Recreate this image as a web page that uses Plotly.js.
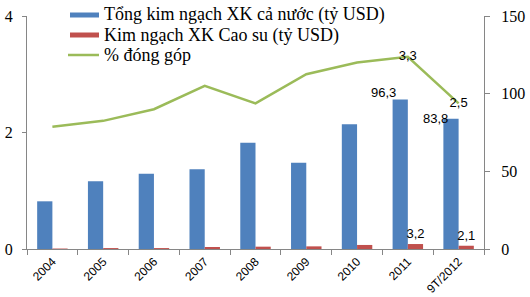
<!DOCTYPE html>
<html><head><meta charset="utf-8">
<script src="https://cdn.plot.ly/plotly-3.0.1.min.js"></script>
<style>html,body{margin:0;padding:0;background:#fff}#c{width:530px;height:297px}</style>
</head><body><div id="c"></div>
<script>
const categories = ["2004","2005","2006","2007","2008","2009","2010","2011","9T/2012"];
const totalExport = [30.7, 43.6, 48.5, 51.3, 68.4, 55.6, 80.3, 96.3, 83.8];
const rubberExport = [0.3, 0.6, 0.6, 1.3, 1.5, 1.7, 2.6, 3.2, 2.1];
const sharePct = [2.1, 2.2, 2.4, 2.8, 2.5, 3.0, 3.2, 3.3, 2.5];
const seriesNames = ["Tổng kim ngạch XK cả nước (tỷ USD)", "Kim ngạch XK Cao su (tỷ USD)", "% đóng góp"];
const labeledIdx = [7, 8];

const fmt = v => v.toFixed(1).replace('.', ',');
const lab = arr => arr.map((v,i) => labeledIdx.includes(i) ? fmt(v) : '');

const colors = ["#4F81BD", "#C0504D", "#9BBB59"];
const labelFont = {family: "Liberation Sans, Arial, sans-serif", size: 13, color: "#000"};

const traces = [
  {type:'bar', x:categories, y:totalExport, name:seriesNames[0], marker:{color:colors[0]}, yaxis:'y', hoverinfo:'none'},
  {type:'bar', x:categories, y:rubberExport, name:seriesNames[1], marker:{color:colors[1]},
   text:lab(rubberExport), textposition:'outside', constraintext:'none', textfont:labelFont, cliponaxis:false, yaxis:'y', hoverinfo:'none'},
  {type:'scatter', mode:'lines+text', x:categories, y:sharePct, name:seriesNames[2], line:{color:colors[2], width:2.5},
   text:lab(sharePct), textposition:'middle center', textfont:labelFont, cliponaxis:false, yaxis:'y2', hoverinfo:'none'}
];

const L = 27, R = 484, T = 16, B = 249;
const px = x => (x - L) / (R - L);
const py = y => (B - y) / (B - T);
const axisCol = "#868686";
const serif = {family: "Liberation Serif, Times New Roman, serif", size: 16, color: "#000"};

// label offsets for the blue-bar value labels (px)
const blueShift = {7: [-24, 7], 8: [-23, 0]};
const blueLabels = labeledIdx.map(i => ({
  text: fmt(totalExport[i]), x: i, y: totalExport[i], xref:'x', yref:'y',
  xshift: blueShift[i][0], yshift: blueShift[i][1], yanchor:'middle', xanchor:'center',
  showarrow:false, font:labelFont
}));

const legendText = seriesNames.map((n,i) => ({
  text:n, xref:'paper', yref:'paper', x:px(102), y:py(15 + 20*i), xanchor:'left', yanchor:'middle',
  showarrow:false, font:{family:"Liberation Serif, Times New Roman, serif", size:18, color:"#000"}
}));

const layout = {
  width:530, height:297,
  margin:{l:L, r:530-R, t:T, b:297-B, pad:0},
  paper_bgcolor:'#fff', plot_bgcolor:'#fff',
  showlegend:false,
  barmode:'group', bargap:0.4, bargroupgap:0,
  xaxis:{type:'category', range:[-0.5, categories.length - 0.5], autorange:false, showline:true, linecolor:axisCol, linewidth:1,
    ticks:'outside', tickson:'boundaries',
    ticklen:5, tickcolor:axisCol, tickangle:-45, tickfont:{family:"Liberation Sans, Arial, sans-serif", size:12, color:"#000"},
    showgrid:false, zeroline:false},
  yaxis:{side:'right', range:[0,150], autorange:false, dtick:50, showline:true, linecolor:axisCol, linewidth:1, ticks:'outside',
    ticklen:5, tickcolor:axisCol, tickfont:serif, showgrid:false, zeroline:false, ticklabelstandoff:8},
  yaxis2:{overlaying:'y', side:'left', range:[0,4], autorange:false, dtick:2, showline:true, linecolor:axisCol, linewidth:1, ticks:'outside',
    ticklen:4, tickcolor:axisCol, tickfont:serif, showgrid:false, zeroline:false, ticklabelstandoff:6},
  separators:', ',
  shapes:[
    {type:'rect', xref:'paper', yref:'paper', x0:px(70), x1:px(99), y0:py(17.5), y1:py(12.5), fillcolor:colors[0], line:{width:0}},
    {type:'rect', xref:'paper', yref:'paper', x0:px(70), x1:px(99), y0:py(37.5), y1:py(32.5), fillcolor:colors[1], line:{width:0}},
    {type:'line', xref:'paper', yref:'paper', x0:px(68), x1:px(99), y0:py(55), y1:py(55), line:{color:colors[2], width:2.5}}
  ],
  annotations: legendText.concat(blueLabels)
};

Plotly.newPlot('c', traces, layout, {staticPlot:true, displayModeBar:false});
</script></body></html>
